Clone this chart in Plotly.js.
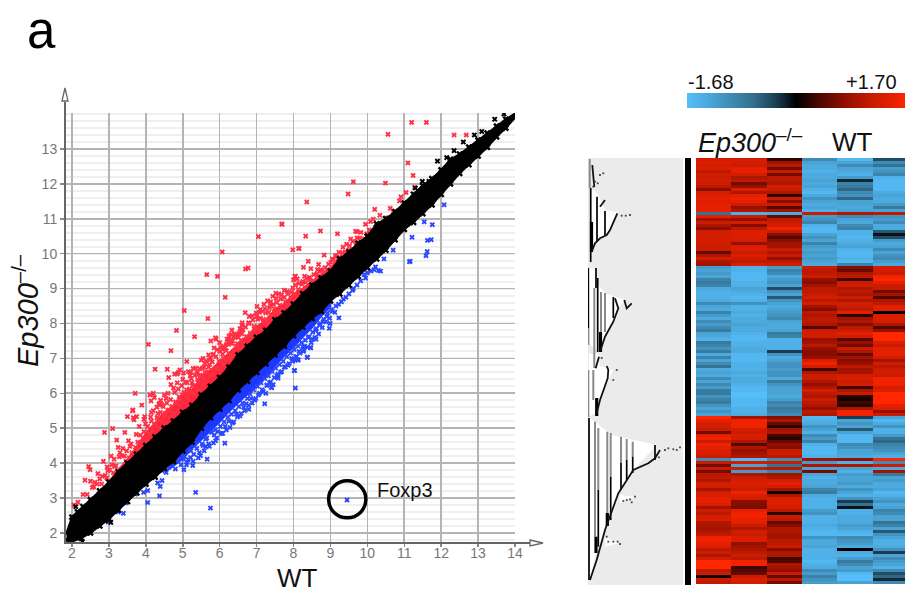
<!DOCTYPE html>
<html><head><meta charset="utf-8">
<script src="https://cdn.plot.ly/plotly-3.0.1.min.js"></script>
<style>html,body{margin:0;padding:0;background:#fff;overflow:hidden}#c{width:905px;height:598px}</style>
</head><body><div id="c"></div><script>
// ---------- scatter: Ep300-/- vs WT ----------
const blackUpX=[1.85,2.0,2.15,2.3,2.5,2.75,3,3.25,3.5,3.75,4,4.25,4.5,4.75,5,5.25,5.5,5.75,6,6.25,6.5,6.75,7,7.25,7.5,7.75,8,8.25,8.5,8.75,9,9.25,9.5,9.75,10,10.25,10.5,10.75,11,11.25,11.5,11.75,12,12.25,12.5,12.75,13,13.25,13.5,13.75,14.05];
const blackUpY=[2.0,2.45,2.6,2.75,2.95,3.2,3.45,3.75,4.0,4.25,4.5,4.75,5.0,5.2,5.45,5.65,5.95,6.2,6.45,6.75,7.1,7.35,7.6,7.8,8.1,8.3,8.55,8.85,9.1,9.3,9.5,9.85,10.05,10.3,10.5,10.85,11.0,11.2,11.45,11.7,11.95,12.15,12.4,12.7,12.85,13.05,13.25,13.45,13.65,13.85,14.05];
const blackLoX=[14.05,13.75,13.5,13.25,13,12.75,12.5,12.25,12,11.75,11.5,11.25,11,10.75,10.5,10.25,10,9.75,9.5,9.25,9,8.75,8.5,8.25,8,7.75,7.5,7.25,7,6.75,6.5,6.25,6,5.75,5.5,5.25,5,4.75,4.5,4.25,4,3.75,3.5,3.25,3,2.75,2.5,2.25,2,1.85];
const blackLoY=[13.95,13.6,13.35,13.05,12.8,12.55,12.3,12.0,11.7,11.4,11.15,10.9,10.7,10.4,10.1,9.85,9.6,9.35,9.1,8.85,8.65,8.35,8.15,7.9,7.65,7.35,7.1,6.85,6.6,6.35,6.1,5.8,5.55,5.3,5.0,4.6,4.35,4.05,3.85,3.6,3.4,3.15,2.9,2.65,2.4,2.2,2.0,1.85,1.75,1.8];
const blackExtraX=[11.67,11.49,11.3,12.35,12.6,13.1,13.45,13.7,11.9,12.15,12.9,2.28,3.05,2.9,2.1];
const blackExtraY=[12.07,12.07,11.88,12.95,13.2,13.5,13.85,14.0,12.65,12.75,13.4,1.75,2.3,2.35,2.75];

const redBandX=[2.9,3.2,3.5,3.75,4,4.25,4.5,4.75,5,5.25,5.5,5.75,6,6.25,6.5,6.75,7,7.25,7.5,7.75,8,8.25,8.5,8.75,9,9.25,9.5,9.5,2.9];
const redBandY=[3.3,3.75,4.1,4.45,4.85,5.15,5.45,5.65,5.95,6.1,6.45,6.65,6.9,7.15,7.4,7.65,7.9,8.1,8.4,8.55,8.85,9.0,9.2,9.4,9.6,9.85,10.05,9.85,3.15];
const redX=[7.69,7.05,6.07,7.98,8.14,6.70,6.77,5.65,5.94,6.15,5.04,5.68,4.83,5.32,5.89,6.69,7.01,7.44,7.52,8.05,8.1,
10.56,11.2,11.6,11.24,9.62,10.49,9.48,8.36,10.91,10.87,11.05,11.28,10.2,10.62,10.34,10.16,10.09,9.95,7.68,8.33,8.73,9.19,9.55,9.68,9.73,9.83,9.98,9.44,9.34,8.15,8.83,9.14,9.23,9.08,9.01,8.4,8.27,8.47,8.68,8.65,8.04,8.74,12.35,12.68,11.1,
4.07,4.68,5.11,4.25,4.58,5.76,5.9,6.25,6.33,6.45,6.5,6.61,6.99,7.37,4.2,4.11,4.23,3.71,3.89,4.38,4.44,3.64,3.5,3.75,3.68,3.97,2.88,3.1,3.43,
3.21,3.25,3.14,3.35,3.53,2.85,2.95,2.45,2.49,3.19,2.35,2.5,2.59,2.3,2.41,2.05,2.16,2.94,2.8,3.66,3.65,4.14,4.39,
2.62,2.7,2.75,2.9,3.02,3.08,3.15,3.3,3.42,3.48,3.55,3.6,3.62,3.72,3.78,3.8,3.85,3.9,3.95,4.0,4.05,4.1,4.15,4.2,4.25,4.3,4.35,4.4,4.45,4.5,4.55,4.6,4.65,4.7,4.75,4.8,4.85,4.9,4.95,5.0,5.05,5.1,5.15,5.2,5.25,5.3,5.35,5.4,5.45,5.5,5.55,5.6,5.65,5.7,5.75,5.8,5.85,5.9,5.95,6.0,6.05,6.1,6.15,6.2,6.25,6.3,6.35,6.4,6.45,6.5,6.55,6.6,6.65,6.7,6.75,6.8,6.85,6.9,6.95,7.0,7.05,7.1,7.15,7.2,7.25,7.3,7.35,7.4,7.45,7.5,7.55,7.6,7.65,7.7,7.75,7.8,7.85,7.9,7.95,8.0,8.05,8.1,8.15,8.2,8.25,8.3,8.35,8.4,8.45,8.5,8.55,8.6,8.65,8.7,8.75,8.8,8.85,8.9,8.95,9.0,9.05,9.1,9.15,9.2,9.25,9.3,9.4,9.5,9.6,9.7,9.8,
4.92,5.28,5.46,5.0,5.2,4.85,4.75,4.6,4.5,5.4,5.6,5.75,5.55,4.4,4.3,4.2,6.0,6.2,6.4,6.6,6.8,7.1,7.2,7.3,7.6,7.75,8.0,8.3,
4.62,4.78,4.68,4.88,5.12,5.22,5.38,5.58,5.72,5.82,6.08,6.18,6.28,6.42,6.58];
const redY=[10.84,10.49,10.05,10.11,10.15,9.56,9.59,9.4,9.35,8.75,8.37,8.14,7.8,7.62,7.59,8.31,8.49,8.78,8.87,9.35,9.28,
13.42,13.76,13.76,12.24,12.06,12.02,11.71,11.48,11.63,11.51,11.75,11.9,11.27,11.3,11.1,10.99,10.92,10.84,10.85,10.5,10.65,10.57,10.42,10.64,10.63,10.61,10.57,10.27,10.19,10.15,9.96,9.92,10.04,9.83,9.75,9.78,9.61,9.57,9.69,9.54,9.35,9.54,13.4,13.4,12.6,
7.4,7.22,6.91,6.69,6.69,7.5,7.55,7.64,7.81,7.67,7.67,8.02,8.3,8.52,6,5.95,5.88,6,5.66,5.67,5.67,5.5,5.33,5.33,5.24,5.33,4.88,4.99,4.88,
4.66,4.45,4.11,4.21,4.64,4.05,3.89,3.9,3.81,3.92,3.51,3.48,3.32,3.1,3.1,2.8,2.88,3.57,3.4,5.3,5.52,5.78,5.69,
3.45,3.7,3.55,3.65,3.8,3.95,3.9,4.3,4.2,4.35,4.15,4.55,4.3,4.45,4.6,4.35,4.8,4.55,4.9,4.7,5.05,4.85,5.2,4.95,5.1,5.3,5.0,5.45,5.2,5.35,5.15,5.5,5.3,5.6,5.4,5.75,5.5,5.9,5.65,5.95,5.7,6.1,5.85,6.05,6.3,6.0,6.2,6.4,6.1,6.5,6.25,6.6,6.35,6.75,6.5,6.9,6.6,7.05,6.7,7.2,6.85,7.0,7.3,6.95,7.4,7.1,7.5,7.2,7.35,7.6,7.3,7.7,7.45,7.9,7.55,8.0,7.65,8.1,7.8,8.2,7.9,8.15,8.35,8.0,8.3,8.1,8.45,8.2,8.55,8.3,8.6,8.35,8.7,8.45,8.75,8.5,8.85,8.55,8.9,8.65,9.1,8.75,9.15,8.85,9.2,8.95,9.3,9.0,9.25,9.1,9.4,9.15,9.35,9.2,9.5,9.3,9.6,9.4,9.7,9.5,9.85,9.6,9.95,9.7,9.9,9.8,10.05,10.1,10.35,10.3,10.45,
6.67,6.71,6.7,6.4,6.5,6.3,6.15,6.0,5.95,6.6,6.85,7.0,7.0,5.8,5.6,5.5,7.45,7.55,7.7,7.95,8.2,8.4,8.55,8.65,8.85,8.95,9.25,9.35,
6.45,6.55,6.25,6.6,6.3,6.6,6.55,6.75,6.95,7.1,7.25,7.4,7.5,7.6,7.8];
const redMoreX=[2.55,2.68,2.82,2.97,3.06,3.12,3.28,3.38,3.46,3.57,3.66,3.74,3.83,3.92,3.99,4.03,4.13,4.17,4.22,4.33,4.37,4.42,4.47,4.53,4.57,4.63,4.67,4.72,4.78,4.83,4.88,4.93,4.97,5.03,5.08,5.13,5.18,5.23,5.27,5.33,5.37,5.42,5.47,5.53,5.57,5.63,5.68,5.73,5.78,5.83,5.88,5.93,5.98,6.03,6.08,6.13,6.18,6.23,6.28,6.33,6.38,6.43,6.48,6.53,6.58,6.63,6.68,6.73,6.78,6.83,6.88,6.93,6.98,7.03,7.08,7.13,7.18,7.23,7.28,7.33,7.38,7.43,7.48,7.53,7.58,7.63,7.68,7.73,7.78,7.83,7.88,7.93,7.98,8.03,8.08,8.13,8.18,8.23,8.28,8.33,8.38,8.43,8.48,8.53,8.58,8.63,8.68,8.73,8.78,8.83,8.88,8.93,9.03,9.13,9.22,9.33,9.42,9.52,9.58,9.72,9.85,9.92,10.05,10.12,10.25,10.4,10.55,10.7,4.85,5.02,5.15,5.35,5.5,5.7,5.85,6.1,6.3,6.55,4.35,4.55,4.15,3.95,3.82];
const redMoreY=[3.3,3.4,3.62,3.78,4.2,3.72,4.18,4.42,4.05,4.48,4.12,4.82,4.42,4.72,5.12,4.62,5.32,4.78,5.02,5.42,5.22,4.98,5.62,5.42,5.72,5.52,5.82,5.62,6.02,5.72,6.12,5.82,6.22,6.02,6.32,5.92,6.12,6.42,6.22,6.52,6.12,6.32,6.52,6.72,6.42,6.92,6.62,6.82,6.52,7.12,6.72,7.25,6.92,7.32,7.12,6.82,7.22,7.52,6.98,7.42,7.62,7.12,7.42,7.72,7.52,7.82,7.28,7.62,8.02,7.72,8.22,7.92,7.62,8.12,8.32,7.82,8.12,8.42,7.98,8.32,8.62,8.12,8.42,8.72,8.22,8.52,8.82,8.32,8.62,8.92,8.42,8.72,9.02,8.82,8.52,8.98,8.72,9.12,8.78,9.18,8.88,9.32,8.95,9.22,9.02,9.42,9.12,9.32,9.18,9.48,9.28,9.55,9.42,9.78,9.62,10.02,9.85,10.22,9.98,10.45,10.25,10.42,10.68,10.5,10.72,10.85,11.02,11.2,6.55,6.58,6.62,6.72,6.95,7.1,7.3,7.35,7.68,7.85,5.7,5.85,5.45,5.25,5.05];

const blueBandX=[4.6,5,5.25,5.5,5.75,6,6.25,6.5,6.75,7,7.25,7.5,7.75,8,8.25,8.5,8.75,9,9,4.6];
const blueBandY=[3.8,4.12,4.42,4.68,4.95,5.18,5.48,5.72,5.98,6.18,6.48,6.78,7.08,7.32,7.62,7.88,8.22,8.48,8.9,4.5];
const blueX=[9.45,6.14,5.66,5.35,5.75,4.05,4.37,2.98,3.25,3.39,3.46,3.71,4.05,4.01,4.44,4.39,4.32,3.94,3.8,3.65,5.03,4.8,4.62,4.44,4.55,4.89,5.03,5.27,5.21,5.12,5.48,5.62,5.89,5.32,5.62,
7.22,8.05,7.41,7.28,6.79,8.02,8.37,8.61,8.97,8.99,9.23,8.46,8.25,8.12,8.07,7.58,7.58,8.47,8.27,7.4,8.03,8.38,8.13,
11.21,11.63,11.59,11.16,9.91,10.0,10.18,10.3,10.36,9.95,12.08,11.76,11.54,11.73,11.62,11.14,
5.1,5.3,5.45,5.55,5.7,5.85,5.95,6.05,6.15,6.25,6.35,6.45,6.55,6.65,6.72,6.85,6.95,7.05,7.15,7.25,7.35,7.45,7.55,7.65,7.75,7.85,7.95,8.05,8.15,8.3,8.4,8.5,8.6,8.7,8.8,8.9,9.05,9.15,9.35,9.6];
const blueY=[2.94,4.57,4.11,3.16,2.71,2.87,3.06,2.31,2.6,2.56,2.86,3.11,3.21,3.45,3.5,3.33,3.43,3.16,3.28,3.14,3.81,3.83,3.88,3.78,3.73,4.11,4.11,3.93,4.16,4.02,4.21,4.47,4.64,4.54,4.69,
5.7,6.15,6.16,6.24,5.54,6.65,7.03,7.55,7.86,8.0,8.16,7.31,7.33,6.95,7.05,6.43,6.5,7.3,7.2,6.17,6.65,7.03,6.96,
10.47,10.38,9.94,9.78,9.4,9.45,9.54,9.52,9.5,9.3,11.4,10.83,10.91,10.4,10.06,9.77,
3.95,4.25,4.3,4.5,4.55,4.8,4.9,4.85,5.05,5.2,5.15,5.4,5.35,5.6,5.7,5.85,5.8,5.95,6.1,6.0,6.3,6.25,6.5,6.6,6.75,6.8,7.0,6.95,7.2,7.35,7.6,7.55,7.8,7.95,8.05,8.2,8.35,8.5,8.7,8.95];
const blueMoreX=[4.7,4.82,4.95,5.02,5.15,5.22,5.28,5.38,5.42,5.52,5.58,5.65,5.72,5.78,5.83,5.88,5.92,6.02,6.08,6.12,6.18,6.22,6.28,6.32,6.38,6.42,6.48,6.52,6.58,6.62,6.68,6.75,6.78,6.82,6.88,6.92,6.98,7.02,7.08,7.12,7.18,7.22,7.28,7.32,7.38,7.42,7.48,7.52,7.58,7.62,7.68,7.72,7.78,7.82,7.88,7.92,7.98,8.02,8.08,8.12,8.18,8.22,8.28,8.32,8.38,8.42,8.48,8.52,8.58,8.62,8.68,8.72,8.78,8.82,8.88,8.92,8.98,9.02,9.12,9.22,9.3,9.42,9.5,9.62,9.72,9.82,10.1,10.22,10.45,10.7];
const blueMoreY=[3.95,4.05,3.95,4.2,4.1,4.35,4.05,4.42,4.15,4.55,4.35,4.72,4.48,4.88,4.58,4.95,4.72,5.05,4.85,5.18,4.95,5.32,5.02,5.4,5.18,5.5,5.32,5.62,5.42,5.72,5.5,5.85,5.65,5.98,5.72,6.1,5.85,6.2,6.0,6.3,6.05,6.42,6.22,6.5,6.32,6.62,6.45,6.72,6.55,6.82,6.62,6.92,6.75,7.05,6.85,7.15,6.92,7.25,7.05,7.35,7.15,7.45,7.25,7.52,7.32,7.62,7.45,7.75,7.6,7.85,7.7,8.0,7.88,8.12,8.05,8.3,8.15,8.4,8.32,8.55,8.62,8.75,8.85,9.0,9.1,9.22,9.5,9.62,9.85,10.1];

const xTicks=[2,3,4,5,6,7,8,9,10,11,12,13,14];
const yTicks=[2,3,4,5,6,7,8,9,10,11,12,13];

// ---------- heat map: 3 Ep300-/- and 3 WT columns, one value per row ----------
const ko1=[1.3,1.4,1.3,1.4,1.1,1.3,1.2,1.3,1.2,1.1,0.7,1.3,1.4,1.5,1.4,1.5,1.5,1.5,-0.7,1.5,0.9,1.2,1.0,0.7,1.3,1.3,1.3,1.3,1.3,1.2,1.2,0.5,1.0,1.3,1.0,0.9,
-1.2,-1.3,-1.2,-1.3,-0.9,-0.8,-0.9,-1.4,-1.5,-1.5,
-1.5,-1.4,-1.0,-1.3,-1.4,-0.9,-1.2,-1.4,-1.0,-1.2,-1.0,-0.8,-1.3,-1.4,-1.5,-0.8,-0.9,-1.1,-0.8,-1.4,-0.9,-1.3,-1.0,-0.7,-1.4,-1.3,-1.4,-1.0,-1.3,-1.0,-1.2,-0.8,-0.8,-1.1,-0.9,-0.8,-1.1,-1.3,-1.1,-1.3,
1.7,1.5,1.3,1.3,1.2,0.6,1.5,1.6,
1.2,1.6,1.5,1.4,1.4,1.2,-1.0,1.2,0.6,1.2,0.6,1.1,1.1,1.0,1.3,1.3,0.9,1.3,1.4,1.5,1.5,1.4,0.9,1.2,1.1,1.3,1.4,1.0,1.0,0.9,1.0,1.1,1.6,1.6,1.5,1.4,1.1,1.2,1.0,1.3,1.7,1.7,1.7,1.1,1.2,0.1,1.2,1.1];
const ko2=[1.3,1.3,1.2,1.5,1.5,1.3,1.0,1.1,0.6,0.8,1.4,1.0,1.5,1.6,1.5,1.2,0.8,1.0,-1.5,1.2,0.8,1.3,0.7,1.1,1.4,1.4,1.4,1.3,0.8,1.4,1.4,1.2,1.4,1.2,1.1,1.4,
-1.5,-1.5,-1.6,-1.6,-1.6,-1.5,-1.5,-1.3,-1.4,-1.5,
-1.6,-1.5,-1.1,-1.5,-1.5,-1.4,-1.5,-1.4,-1.4,-1.3,-1.4,-1.4,-1.5,-1.6,-1.6,-1.5,-1.5,-1.4,-1.4,-1.6,-1.6,-1.6,-1.5,-1.5,-1.5,-1.4,-1.5,-1.4,-1.4,-1.5,-1.6,-1.6,-1.7,-1.7,-1.6,-1.6,-1.6,-1.5,-1.5,-1.4,
0.9,1.6,1.6,1.6,1.3,1.2,1.4,1.3,
1.0,0.4,1.0,0.8,0.9,1.0,-1.6,1.3,-1.3,1.2,-1.2,1.0,1.2,1.3,1.4,1.3,1.2,1.6,1.4,1.3,0.7,0.7,0.6,1.5,1.6,1.6,1.5,1.5,1.2,1.0,1.3,1.2,1.4,1.4,0.8,0.9,1.0,1.1,1.2,1.1,1.6,1.6,0.3,0.4,0.5,1.2,1.4,1.3];
const ko3=[0.2,0.9,1.1,0.6,1.2,0.6,1.1,1.1,1.0,1.3,1.2,1.0,0.2,1.2,0.7,1.2,0.4,0.9,-1.4,0.5,1.1,1.2,1.3,1.6,1.2,0.7,0.4,0.7,0.9,0.9,1.2,1.0,1.2,0.8,1.1,1.3,
-1.2,-0.9,-1.0,-1.4,-1.2,-1.1,-1.3,-0.4,-1.1,-1.3,
-0.5,-1.1,-1.3,-1.4,-1.3,-1.2,-1.1,-1.0,-1.3,-1.4,-1.4,-1.3,-0.8,-0.9,-1.5,-1.5,-1.5,-1.5,-0.3,-1.1,-1.4,-1.3,-1.1,-1.1,-1.2,-1.1,-1.1,-1.4,-0.8,-1.1,-1.3,-1.3,-1.3,-1.4,-1.2,-0.9,-1.0,-0.8,-0.9,-1.0,
0.7,1.0,0.5,0.2,0.9,1.0,0.3,0.2,
0.5,0.8,0.7,1.2,1.2,1.1,-1.0,1.2,-0.7,1.1,-0.9,0.9,1.0,1.3,1.5,1.3,0.9,0.1,1.0,1.4,1.4,1.4,1.3,1.1,0.2,1.2,1.1,0.5,0.7,1.0,1.0,0.9,0.9,1.1,1.1,1.2,0.7,1.0,1.0,0.3,0.4,1.0,0.9,0.8,1.2,0.5,1.1,0.6];
const wt1=[-1.0,-1.3,-1.4,-1.4,-1.5,-1.4,-1.4,-1.3,-1.4,-1.3,-1.5,-1.6,-1.4,-1.1,-1.3,-1.4,-1.3,-1.5,1.2,-1.2,-1.1,-0.9,-1.5,-1.6,-1.6,-1.3,-1.1,-1.3,-0.9,-1.2,-1.3,-1.2,-1.3,-1.2,-1.3,-1.4,
1.2,1.1,1.1,1.2,0.8,0.7,0.9,1.1,1.1,1.2,
1.3,1.1,1.3,0.9,0.7,1.1,1.0,1.1,1.1,1.0,0.4,1.2,1.3,1.3,0.8,0.9,1.1,0.8,0.7,0.7,0.8,1.4,1.6,1.3,0.3,1.0,1.2,1.2,1.0,0.8,1.0,1.3,1.1,1.0,1.2,1.1,1.0,0.8,1.1,1.0,
-1.6,-1.5,-1.4,-1.1,-1.3,-1.5,-1.0,-1.2,
-0.9,-1.5,-1.6,-1.6,-1.6,-1.5,0.9,-1.2,1.0,-1.3,0.6,-1.3,-1.5,-1.4,-1.4,-1.3,-0.9,-0.8,-1.4,-1.5,-1.5,-1.5,-1.5,-1.2,-1.1,-1.5,-1.5,-1.5,-1.4,-1.5,-1.6,-1.6,-1.1,-1.4,-1.4,-1.3,-1.5,-1.5,-1.5,-1.5,-1.6,-1.5,-1.4,-1.0,-1.2,-0.9,-1.1,-1.2];
const wt2=[-1.6,-1.3,-1.0,-1.3,-1.4,-1.5,-1.2,-0.2,-0.9,-0.8,-0.6,-1.0,-1.1,-0.6,-1.3,-1.3,-1.4,-1.3,1.0,-1.0,-1.3,-1.4,-1.0,-0.9,-1.5,-1.5,-1.6,-1.5,-1.4,-1.3,-1.5,-1.6,-1.6,-1.5,-1.6,-0.9,
0.7,0.5,1.0,1.1,0.3,1.2,1.3,1.0,1.1,1.0,
1.2,1.0,1.3,1.2,1.1,1.5,0.2,0.9,1.0,0.7,1.1,1.2,1.5,1.3,0.4,0.8,0.6,1.2,1.0,0.5,0.9,0.7,0.8,1.1,0.9,0.9,1.3,1.4,1.2,1.3,0.3,1.0,1.2,0.2,0.1,0.3,0.2,1.0,1.6,1.6,
-0.3,-1.3,-1.1,-1.3,-0.5,-1.3,-1.6,-1.6,
-1.6,-1.0,-1.1,-1.3,-1.3,-1.4,0.8,-1.5,1.0,-1.3,-1.5,-1.2,-1.3,-1.3,-1.2,-1.4,-1.1,-1.3,-1.5,-1.1,-0.3,-0.7,-0.1,-1.5,-1.5,-1.4,-1.4,-1.4,-1.2,-1.3,-1.5,-1.6,-1.0,-1.1,-1.2,-1.4,0.0,-1.4,-1.5,-1.2,-0.8,-1.0,-1.3,-1.2,-1.6,-1.7,-1.7,-1.3];
const wt3=[-0.4,-1.0,-0.7,-1.2,-1.1,-0.9,-1.5,-1.6,-1.6,-1.6,-1.6,-1.4,-1.3,-1.4,-1.4,-1.2,-0.8,-1.3,1.1,-1.1,-1.2,-1.0,-1.4,-1.4,-0.5,-0.1,-0.4,-1.2,-1.4,-1.3,-1.0,-1.3,-1.1,-1.0,-1.2,-1.4,
1.3,1.3,1.2,1.6,1.7,1.5,1.2,1.2,0.6,0.9,
0.4,1.0,1.1,1.5,1.5,0.0,1.4,1.4,1.3,1.0,0.4,0.8,1.7,1.7,1.7,1.4,1.2,1.5,1.5,1.5,1.3,0.9,1.3,1.1,1.2,1.3,1.2,1.6,1.6,1.6,1.3,1.4,1.7,1.7,1.7,1.7,1.5,1.4,0.8,1.2,
-1.3,-1.6,-1.4,-1.1,-1.5,-1.5,-1.2,-0.7,
-0.6,-0.9,-1.0,-1.1,-1.3,-1.5,1.7,-1.0,1.2,-1.4,0.9,-0.8,-1.3,-1.2,-1.4,-1.4,-1.3,-1.6,-1.5,-1.3,-1.1,-1.4,-1.3,-0.9,-1.0,-1.3,-1.3,-0.7,-0.9,-1.3,-0.5,-1.1,-1.3,-1.5,-1.5,-1.4,-1.1,-0.3,-1.3,-1.0,-1.2,-1.3,-1.5,-1.0,-0.4,-0.6,-0.2,-1.0];
const heatRows=ko1.map((_,i)=>i);
const heatCols=[0,1,2,3,4,5];
const colorbarSteps=[-1.68,-1.5,-1.3,-1.1,-0.9,-0.7,-0.5,-0.3,-0.1,0,0.1,0.3,0.5,0.7,0.9,1.1,1.3,1.5,1.7];

// ---------- dendrogram (units: 1 = row-pixel of the tree panel) ----------
const panelX=[0,95,95,0,0];
const panelY=[0,0,427,427,0];
const wedgeX=[3.7,10.3,17,30.3,25.3,18.7,12,3.7,null, 1,8.7,10.3,17,27,37,30.3,25.3,17,12,2,null, 1,10,12,25,12,8.7,1,null, 2,7,23.7,68.7,45.3,30.3,17,7,2,null, 32,47,32,null, 17,30.3,17];
const wedgeY=[30.3,37,52,54.3,63.7,77,80.3,93.7,null, 110.3,112,127,135.3,138.7,142,150.3,163.7,178.7,193.7,187,null, 196,196,208,212,242,255,258,null, 260.3,263.7,277,287,312,335.3,372,398.7,422,null, 337,338.7,345.3,null, 378.7,385.3,388.7];
const greyX=[1.7,1.7,null,0.3,0.3,null,6.3,6.3,null,13,13,null,17,17,null,0.3,0.3,null,5.3,5.3,null,7,7,null,10.3,10.3,null,19.3,19.3,null,22.7,22.7,null,33,33,null,38.7,38.7,null,44.7,44.7];
const greyY=[1,30,null,170,187,null,130,210,null,134,176,null,135,174,null,212,259,null,212,242,null,263.7,378.7,null,270,332,null,273.7,358.7,null,275,318.7,null,278.7,305,null,281,302,null,283.7,298.7];
const blackX=[2.7,2.7,null,9,9,null,17,17,null,0.3,0.3,null,8,8,null,9.7,9.7,null,25.3,25.3,null,1,1,null,10.3,10.3,null,22.7,22.7,null,33,33,null,38.7,38.7,null,44.7,44.7,null,67,67];
const blackY=[30,104,null,38.7,83.7,null,53,77,null,110,170,null,110,130,null,120,194,null,139,160,null,260,422,null,332,388.7,null,318.7,362,null,305,332,null,302,322,null,298.7,315,null,287,302];
const thickX=[3.5,3.5,null,12.5,12.5,null,8.7,8.7,null,8,8,null,19.3,19.3];
const thickY=[64,94,null,174,194,null,240,258,null,378.7,395,null,355,368];
const chainX=[4.3,6.3,null,3.7,7,12,18.7,22,25.3,29.3,null,12,17,null,12,17,25.3,30.3,27,null,36.3,38.7,43.7,null,7.7,11,null,8.7,12,19.7,20.3,18.7,null,2,8.7,17,30.3,45.3,60.3,67,72];
const chainY=[7,29,null,93.7,85.3,80.3,77,72,63.7,55.3,null,48.7,42,null,193.7,178.7,163.7,150.3,140.3,null,142,150.3,145.3,null,210.3,198.7,null,255.3,242,220.3,212,208,null,422,402,372,335.3,312,305.3,300.3,292];
const dotsX=[12,15.3,7,9.7,5.3,33.7,37.7,42,13.7,25.3,28.7,77,80.3,85.3,88.7,92,71,35.3,38.7,42,47,43.7,18.7,20.3,25.3,29.7,32];
const dotsY=[17,15.3,23.7,25.3,28.7,57.7,57.7,57,200,222,212,292,290.3,291.3,292,289.3,299.3,343,342,341.3,338.7,344.3,378.7,383.7,383.7,383.7,386];
const barX=[100,100];
const barY=[0,427];

// ---------- labels ----------
const panelLetter='a';
const cbarLow='-1.68';
const cbarHigh='+1.70';
const geneLabel='Foxp3';

// ---------- page helpers (pixel geometry) ----------
const W=905,H=598;
const dx=(a,b)=>[a/W,b/W];
const dy=(t,b)=>[1-b/H,1-t/H];
const px=v=>v/W, py=v=>1-v/H;
const F='"Liberation Sans",Arial,sans-serif';
const scale=[[0,'#56bef9'],[0.1,'#4aa6da'],[0.2,'#3f8bb5'],[0.3,'#33708f'],[0.4,'#1d4257'],[0.497,'#000000'],[0.6,'#4a0800'],[0.72,'#900e00'],[0.85,'#c81c00'],[0.95,'#e82000'],[1,'#ff2600']];

const traces=[
 {x:redBandX,y:redBandY,mode:'lines',fill:'toself',fillcolor:'#ff2438',line:{color:'#ff2438',width:2},xaxis:'x',yaxis:'y',hoverinfo:'skip'},
 {x:blueBandX,y:blueBandY,mode:'lines',fill:'toself',fillcolor:'#1c38ff',line:{color:'#1c38ff',width:2},xaxis:'x',yaxis:'y',hoverinfo:'skip'},
 {x:redX.concat(redMoreX),y:redY.concat(redMoreY),mode:'markers',marker:{symbol:'x',size:4.8,color:'#ff3045',line:{width:0}},xaxis:'x',yaxis:'y'},
 {x:blueX.concat(blueMoreX),y:blueY.concat(blueMoreY),mode:'markers',marker:{symbol:'x',size:4.8,color:'#2a48ff',line:{width:0}},xaxis:'x',yaxis:'y'},
 {x:blackUpX.concat(blackLoX),y:blackUpY.concat(blackLoY),mode:'lines+markers',fill:'toself',fillcolor:'#000',line:{color:'#000',width:2},marker:{symbol:'x',size:6,color:'#000',line:{width:0}},xaxis:'x',yaxis:'y'},
 {x:blackExtraX,y:blackExtraY,mode:'markers',marker:{symbol:'x',size:5,color:'#000',line:{width:0}},xaxis:'x',yaxis:'y'},
 {type:'heatmap',x:heatCols,y:heatRows,z:heatRows.map(i=>[ko1[i],ko2[i],ko3[i],wt1[i],wt2[i],wt3[i]]),zmin:-1.68,zmax:1.7,colorscale:scale,showscale:false,xaxis:'x2',yaxis:'y2'},
 {type:'heatmap',x:colorbarSteps,y:[0],z:[colorbarSteps],zmin:-1.68,zmax:1.7,colorscale:scale,showscale:false,zsmooth:'best',xaxis:'x3',yaxis:'y3'},
 {x:panelX,y:panelY,mode:'lines',fill:'toself',fillcolor:'#ebebeb',line:{width:0},xaxis:'x4',yaxis:'y4'},
 {x:wedgeX,y:wedgeY,mode:'lines',fill:'toself',fillcolor:'#fff',line:{width:0},connectgaps:false,xaxis:'x4',yaxis:'y4'},
 {x:greyX,y:greyY,mode:'lines',line:{color:'#8a8a8a',width:2},connectgaps:false,xaxis:'x4',yaxis:'y4'},
 {x:blackX,y:blackY,mode:'lines',line:{color:'#000',width:1.7},connectgaps:false,xaxis:'x4',yaxis:'y4'},
 {x:thickX,y:thickY,mode:'lines',line:{color:'#000',width:3.2},connectgaps:false,xaxis:'x4',yaxis:'y4'},
 {x:chainX,y:chainY,mode:'lines',line:{color:'#111',width:1.8},connectgaps:false,xaxis:'x4',yaxis:'y4'},
 {x:dotsX,y:dotsY,mode:'markers',marker:{symbol:'square',size:1.8,color:'#444',line:{width:0}},xaxis:'x4',yaxis:'y4'},
 {x:barX,y:barY,mode:'lines',line:{color:'#000',width:6},xaxis:'x4',yaxis:'y4'}
];
const hide={visible:false,fixedrange:true};
const layout={
 width:W,height:H,margin:{l:0,r:0,t:0,b:0},paper_bgcolor:'#fff',plot_bgcolor:'#fff',showlegend:false,hovermode:false,font:{family:F},
 xaxis:{domain:dx(65,515),range:[1.81,14],anchor:'y',tickmode:'array',tickvals:xTicks,ticks:'outside',ticklen:3,tickcolor:'#888',tickwidth:1.5,ticklabelstandoff:-6,
   tickfont:{family:F,size:14,color:'#777'},showgrid:true,gridcolor:'#b4b4b4',gridwidth:1.6,zeroline:false,showline:false,automargin:false},
 yaxis:{domain:dy(113,543),range:[1.71,14.03],anchor:'x',tickmode:'array',tickvals:yTicks,ticks:'outside',ticklen:4,tickcolor:'#888',tickwidth:1.5,
   tickfont:{family:F,size:14,color:'#777'},showgrid:true,gridcolor:'#b4b4b4',gridwidth:1.6,zeroline:false,showline:false,
   minor:{dtick:0.2,showgrid:true,gridcolor:'#efefef',gridwidth:2,ticks:''},automargin:false},
 xaxis2:Object.assign({domain:dx(696,905),range:[-0.5,5.42],anchor:'y2'},hide),
 yaxis2:Object.assign({domain:dy(158,585),range:[141.8,-0.5],anchor:'x2'},hide),
 xaxis3:Object.assign({domain:dx(687,905),range:[-1.68,1.7],anchor:'y3'},hide),
 yaxis3:Object.assign({domain:dy(93,108),range:[-0.5,0.5],anchor:'x3'},hide),
 xaxis4:Object.assign({domain:dx(588,692),range:[0,104],anchor:'y4'},hide),
 yaxis4:Object.assign({domain:dy(158,585),range:[427,0],anchor:'x4'},hide),
 shapes:[
  {type:'line',xref:'paper',yref:'paper',x0:px(65),x1:px(65),y0:py(544),y1:py(102),line:{color:'#666',width:2}},
  {type:'line',xref:'paper',yref:'paper',x0:px(64),x1:px(530),y0:py(543),y1:py(543),line:{color:'#666',width:2}},
  {type:'path',xref:'paper',yref:'paper',path:`M ${px(62)} ${py(101)} L ${px(65)} ${py(88)} L ${px(68)} ${py(101)} Z`,line:{color:'#666',width:1.3},fillcolor:'#fff'},
  {type:'path',xref:'paper',yref:'paper',path:`M ${px(530)} ${py(540)} L ${px(543)} ${py(543)} L ${px(530)} ${py(546)} Z`,line:{color:'#666',width:1.3},fillcolor:'#fff'},
  {type:'circle',xref:'x',yref:'y',x0:8.95,x1:9.96,y0:2.43,y1:3.49,line:{color:'#000',width:3.5},fillcolor:'rgba(0,0,0,0)'}
 ],
 annotations:[
  {xref:'paper',yref:'paper',x:px(41),y:py(0),text:panelLetter,showarrow:false,font:{family:F,size:51,color:'#000'},xanchor:'center',yanchor:'top'},
  {xref:'paper',yref:'paper',x:px(375),y:py(490),text:geneLabel,showarrow:false,font:{family:F,size:20,color:'#111'},xanchor:'left',yanchor:'middle'},
  {xref:'paper',yref:'paper',x:px(686),y:py(82),text:cbarLow,showarrow:false,font:{family:F,size:20,color:'#111'},xanchor:'left',yanchor:'middle'},
  {xref:'paper',yref:'paper',x:px(899),y:py(82),text:cbarHigh,showarrow:false,font:{family:F,size:20,color:'#111'},xanchor:'right',yanchor:'middle'},
  {xref:'paper',yref:'paper',x:px(696),y:py(141),text:'<i>Ep300</i><sup>–/–</sup>',showarrow:false,font:{family:F,size:27,color:'#111'},xanchor:'left',yanchor:'middle'},
  {xref:'paper',yref:'paper',x:px(852),y:py(142),text:'WT',showarrow:false,font:{family:F,size:26,color:'#111'},xanchor:'center',yanchor:'middle'},
  {xref:'paper',yref:'paper',x:px(297),y:py(578),text:'WT',showarrow:false,font:{family:F,size:26,color:'#111'},xanchor:'center',yanchor:'middle'},
  {xref:'paper',yref:'paper',x:px(26),y:py(311),text:'<i>Ep300</i><sup>–/–</sup>',textangle:-90,showarrow:false,font:{family:F,size:29,color:'#111'},xanchor:'center',yanchor:'middle'}
 ]
};
Plotly.newPlot('c',traces,layout,{staticPlot:true,displayModeBar:false});
</script></body></html>
